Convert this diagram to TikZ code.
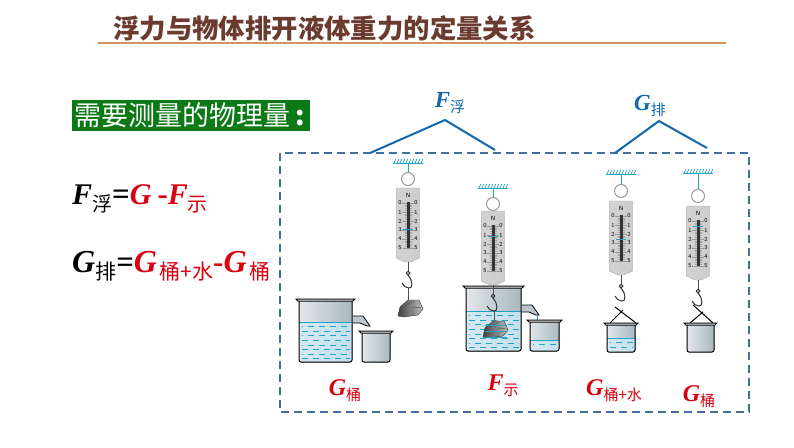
\documentclass[tikz,border=0pt]{standalone}
\usepackage{fontspec}
\setmainfont{Liberation Serif}
\newfontfamily\cjk{Noto Sans CJK SC}
\usetikzlibrary{arrows}

\definecolor{titlebrown}{HTML}{6B3B30}
\definecolor{titleline}{HTML}{D2945F}
\definecolor{panelgreen}{HTML}{0B7A16}
\definecolor{boxblue}{HTML}{41709F}
\definecolor{bracketblue}{HTML}{1267AE}
\definecolor{labelred}{HTML}{D9000F}
\definecolor{waterblue}{HTML}{1FA3C9}
\definecolor{waterfill}{HTML}{C4E0EC}
\definecolor{glassgray}{HTML}{9FB0B8}

% letter with a Chinese subscript: size, subscript size, letter, subscript
\newcommand{\qtysym}[4]{{\fontsize{#1}{#1}\selectfont\bfseries\itshape #3}\raisebox{-.35\dimexpr#2pt\relax}{\fontsize{#2}{#2}\selectfont\cjk #4}}
\newcommand{\opsym}[1]{{\fontsize{31}{31}\selectfont\bfseries #1}}

% beaker: x, y of the rim, width, height, water depth (0 for none)
\newcommand{\beaker}[5]{
	\begin{scope}[shift={(#1,#2)}]
		\fill [left color=glassgray!30,middle color=white,right color=glassgray!90] (0,0) [rounded corners=2] -- (0,#4) -- (#3,#4) [sharp corners] -- (#3,0) -- cycle;
		\ifnum#5>0
		\fill [left color=waterfill!70,middle color=waterfill!20,right color=waterfill] (0,#4-#5) [rounded corners=2] -- (0,#4) -- (#3,#4) [sharp corners] -- (#3,#4-#5) -- cycle;
		\draw [waterblue,thick] (0,#4-#5) -- (#3,#4-#5);
		\foreach \row in {1,...,10} {
			\pgfmathsetmacro{\rowy}{#4-#5+\row*4.6}
			\pgfmathsetmacro{\rowphase}{mod(\row,2)*5}
			\pgfmathtruncatemacro{\rowshown}{\rowy<#4-2 ? 1 : 0}
			\ifnum\rowshown=1
			\draw [waterblue,line width=.8,dash pattern=on 6 off 5,dash phase=\rowphase] (3,\rowy) -- (#3-2,\rowy);
			\fi
		}
		\fi
		\draw [line width=1,rounded corners=2] (0,1) -- (0,#4) -- (#3,#4) -- (#3,1);
		\draw [line width=1,fill=white] (-3,0) -- (#3+3,0) -- (#3+1,2) -- (-1,2) -- cycle;
	\end{scope}
}

% spout on the right wall of a beaker
\newcommand{\spout}[2]{
	\begin{scope}[shift={(#1,#2)}]
		\draw [line width=.8,fill=glassgray!70] (0,0) -- (10,0) -- (17,10) -- (14,10) -- (7,7) -- (0,7);
	\end{scope}
}

% spring balance: x, y of the support, y of the ring, y of the body top
\newcommand{\springscale}[4]{
	\begin{scope}[shift={(#1,0)}]
		\draw [waterblue,thick] (-15,#2) -- (15,#2);
		\foreach \tick in {-14,-11,...,13} \draw [waterblue,line width=.7] (\tick,#2) -- (\tick+1.8,#2-4);
		\draw [waterblue,thick] (0,#2) -- (0,#3-6.5);
		\draw [gray!80,line width=1,fill=white] (0,#3) circle (6.5);
		\begin{scope}[shift={(0,#4)}]
			\shade [left color=gray!35,middle color=white,right color=gray!40,draw=gray!70] (-11.5,0) -- (11.5,0) -- (11.5,70) -- (3,74) -- (-3,74) -- (-11.5,70) -- cycle;
			\node [tinylab] (nmark) at (0,7) {N};
			\foreach \mark in {0,...,25} \draw [gray!70,line width=.3] (-3.5,15+\mark*1.8) -- (3.5,15+\mark*1.8);
			\foreach \num in {0,...,5} {
				\pgfmathsetmacro{\numy}{15+\num*9}
				\node [tinylab] (left\num) at (-8,\numy) {\num};
				\node [tinylab] (right\num) at (8,\numy) {\num};
				\draw [gray!80,line width=.5] (-6,\numy) -- (6,\numy);
			}
			\fill [black!80] (-1.5,14) rectangle (1.5,60);
		\end{scope}
	\end{scope}
}

% hook below a balance: x, y of the lower tip of the balance
\newcommand{\scalehook}[2]{
	\begin{scope}[shift={(#1,#2)}]
		\draw [black!70,line width=1] (0,0) -- (0,9);
		\draw [black!80,line width=1] (0,11) circle (1.8);
		\draw [black!80,line width=1] (0,13) .. controls (5,18) and (5,27) .. (1,26) .. controls (-2,26) and (-5,24) .. (-6,21);
	\end{scope}
}

% pointer of a balance
\newcommand{\pointer}[2]{\draw [waterblue,thick] (#1-5,#2) -- (#1+5,#2);}

% rock: x, y of its centre
\newcommand{\rock}[2]{
	\begin{scope}[shift={(#1,#2)}]
		\shade [left color=black!75,right color=black!25,draw=black!80] (-12,7) -- (-10,-2) -- (-2,-9) -- (9,-9) -- (13,0) -- (8,6) -- (-6,8) -- cycle;
		\draw [black!70] (-5,-3) -- (4,-8) (3,-2) -- (3,6) (3,-2) -- (12,-1);
	\end{scope}
}

\begin{document}
\begin{tikzpicture}[x=1pt,y=-1pt,
	tinylab/.style={inner sep=0,font=\fontsize{6}{6}\selectfont\sffamily},
	title/.style={inner sep=0,anchor=west,text=titlebrown,font=\fontsize{26.4}{26.4}\selectfont\cjk\bfseries},
	panel/.style={inner xsep=2,inner ysep=0,text width=234,align=left,minimum height=31,fill=panelgreen,text=white,font=\fontsize{27}{27}\selectfont\cjk},
	formula/.style={inner sep=0,anchor=west},
	boxlab/.style={inner sep=0,text=labelred},
	bracketlab/.style={inner sep=0,text=bracketblue},
	bracket/.style={bracketblue,line width=2},
	panelbox/.style={boxblue,line width=1.3,dash pattern=on 8 off 5}]
	\useasboundingbox (0,0) rectangle (794,447);
	\fill [white] (0,0) rectangle (794,447);

	% heading
	\node [title] (titletext) at (113,28) {浮力与物体排开液体重力的定量关系};
	\coordinate (ruleleft) at (98,43); \coordinate (ruleright) at (726,43);
	\draw [titleline,line width=2] (ruleleft) -- (ruleright);

	\node [panel] (needed) at (191,115.5) {需要测量的物理量\hspace{5pt}{\bfseries :}};

	% the two relations
	\node [formula] (buoyancy) at (72,199) {\qtysym{30}{20}{F}{浮}\opsym{=}\textcolor{labelred}{\qtysym{30}{20}{G}{}\hspace{6pt}\opsym{-}\qtysym{30}{20}{F}{示}}};
	\node [formula] (displaced) at (72,266) {\qtysym{32}{21}{G}{排}\opsym{=}\textcolor{labelred}{\qtysym{32}{21}{G}{\hspace{2.5pt}桶+水}\opsym{-}\qtysym{32}{21}{G}{\hspace{2.5pt}桶}}};

	% dashed frame and brackets
	\draw [panelbox] (280,153) rectangle (749,412);
	\coordinate (fapex) at (445,120); \coordinate (fleft) at (370,153); \coordinate (fright) at (495,150);
	\coordinate (gapex) at (659,121); \coordinate (gleft) at (615,153); \coordinate (gright) at (707,148);
	\draw [bracket] (fleft) -- (fapex) -- (fright);
	\draw [bracket] (gleft) -- (gapex) -- (gright);
	\node [bracketlab] (ffloat) at (450,103) {\qtysym{23}{15}{F}{浮}};
	\node [bracketlab] (gpushed) at (650,106) {\qtysym{23}{15}{G}{排}};

	% first balance, rock in air
	\springscale{408}{163}{179}{188}
	\pointer{408}{229}
	\scalehook{408}{262}
	\draw [black!70] (408,288) -- (408,300);
	\rock{410}{309}
	\beaker{299}{299}{53}{63}{40}
	\spout{353}{316}
	\beaker{362}{331}{28}{31}{0}

	% second balance, rock in water
	\springscale{493}{188}{204}{211}
	\pointer{493}{236}
	\beaker{466}{286}{55}{65}{40}
	\spout{522}{305}
	\scalehook{493}{285}
	\draw [black!70] (494,310) -- (494,322);
	\rock{495}{330}
	\foreach \rockrow in {325,331,337} \draw [waterblue,line width=.8] (485,\rockrow) -- (507,\rockrow);
	\draw [waterblue,line width=1] (537,315) -- (537,325);
	\beaker{530}{320}{29}{31}{11}

	% third balance, bucket with water
	\springscale{621}{174}{191}{201}
	\pointer{621}{239}
	\scalehook{621}{275}
	\draw [line width=1] (623,310) -- (610,323) (615,307) -- (636,323);
	\beaker{607}{323}{28}{29}{14}

	% fourth balance, empty bucket
	\springscale{698}{173}{196}{206}
	\pointer{698}{226}
	\scalehook{698}{280}
	\draw [line width=1] (703,312) -- (690,323) (693,305) -- (713,323);
	\beaker{687}{323}{27}{29}{0}

	% names below the pictures
	\node [boxlab] (gbucketa) at (345,391) {\qtysym{24}{15}{G}{桶}};
	\node [boxlab] (fscale) at (503,386) {\qtysym{24}{15}{F}{示}};
	\node [boxlab] (gbucketw) at (614,391) {\qtysym{24}{15}{G}{桶+水}};
	\node [boxlab] (gbucketb) at (699,397) {\qtysym{24}{15}{G}{桶}};
\end{tikzpicture}
\end{document}
